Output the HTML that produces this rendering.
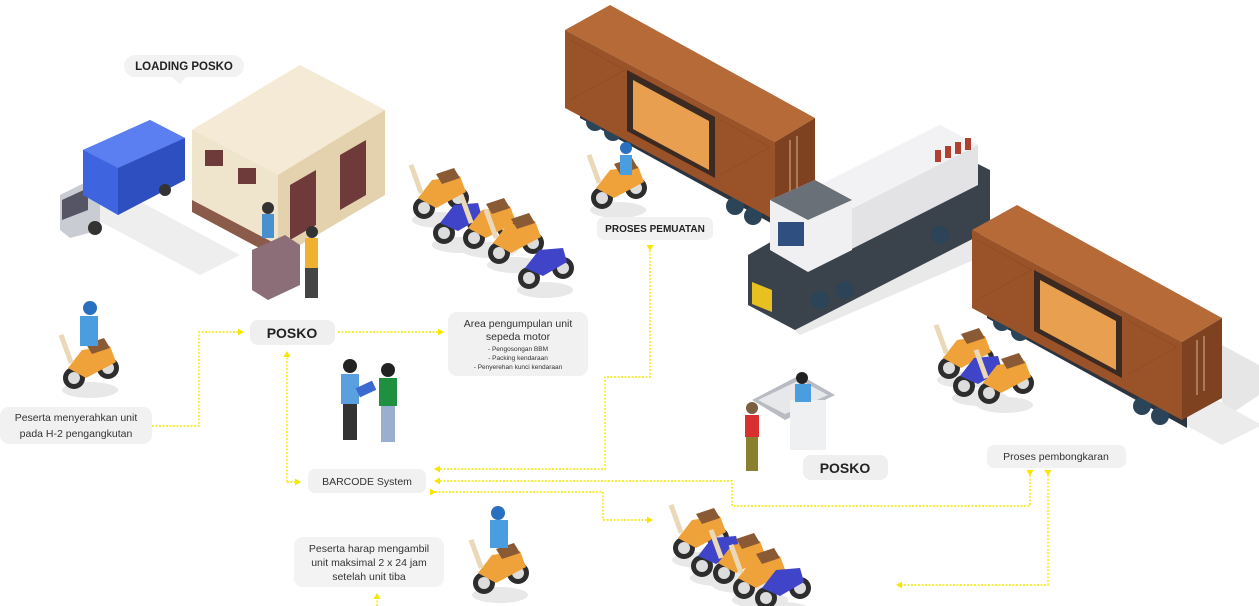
<!DOCTYPE html>
<html><head><meta charset="utf-8"><style>
html,body{margin:0;padding:0;background:#fff;}
svg{display:block}
text{font-family:"Liberation Sans",sans-serif}
</style></head><body>
<svg width="1259" height="606" viewBox="0 0 1259 606" xmlns="http://www.w3.org/2000/svg">
<defs>
<marker id="ar" markerUnits="userSpaceOnUse" markerWidth="8" markerHeight="8" refX="5" refY="4" orient="auto"><path d="M0,0.5 L6,4 L0,7.5 Z" fill="#f7e600"/></marker>
<g id="moto">
 <ellipse cx="0" cy="30" rx="28" ry="8" fill="#e8e8e8"/>
 <circle cx="-16" cy="18" r="11" fill="#2d2d2d"/><circle cx="-16" cy="18" r="6" fill="#ddd"/>
 <circle cx="18" cy="8" r="11" fill="#2d2d2d"/><circle cx="18" cy="8" r="6" fill="#ddd"/>
 <path d="M-22,8 L-8,-10 L20,-14 L26,2 L-4,18 Z" fill="#f0a23a"/>
 <path d="M-4,-16 L14,-22 L20,-12 L2,-6 Z" fill="#8a5a34"/>
 <rect x="-26" y="-26" width="5" height="30" fill="#e9d9b8" transform="rotate(-20 -24 -10)"/>
</g>
<g id="motob">
 <ellipse cx="0" cy="30" rx="28" ry="8" fill="#e8e8e8"/>
 <circle cx="-16" cy="18" r="11" fill="#2d2d2d"/><circle cx="-16" cy="18" r="6" fill="#ddd"/>
 <circle cx="18" cy="8" r="11" fill="#2d2d2d"/><circle cx="18" cy="8" r="6" fill="#ddd"/>
 <path d="M-20,8 L-6,-10 L18,-12 L22,2 L-2,16 Z" fill="#4044c8"/>
</g>
<g id="car">
 <!-- shadow -->
 <path d="M40,130 L250,245 L290,225 L80,110 Z" fill="#ececec"/>
 <!-- undercarriage -->
 <path d="M15,100 L215,210 L215,228 L15,118 Z" fill="#2c3440"/>
 <circle cx="30" cy="122" r="9" fill="#2c4458"/><circle cx="48" cy="132" r="9" fill="#2c4458"/>
 <circle cx="170" cy="206" r="9" fill="#2c4458"/><circle cx="188" cy="216" r="9" fill="#2c4458"/>
 <!-- top -->
 <path d="M0,30 L45,5 L250,118 L210,142 Z" fill="#b56a38"/>
 <!-- front long face -->
 <path d="M0,30 L210,142 L210,220 L0,108 Z" fill="#9a5228"/>
 <!-- end face -->
 <path d="M210,142 L250,118 L250,198 L210,220 Z" fill="#7e4220"/>
 <!-- door -->
 <path d="M62,70 L150,117 L150,178 L62,131 Z" fill="#3a2a22"/>
 <path d="M68,80 L144,121 L144,170 L68,129 Z" fill="#e8a050"/>
 <g stroke="#8e4a22" stroke-width="1" fill="none" opacity=".6">
  <path d="M5,40 L60,70 M5,100 L60,70 M155,120 L205,147 M155,175 L205,147"/>
 </g>
 <path d="M225,140 L225,195 M232,136 L232,191" stroke="#c9a080" stroke-width="1.2"/>
</g>
</defs>

<!-- LOADING POSKO pill -->
<rect x="124" y="55" width="120" height="22" rx="11" fill="#f2f2f2"/>
<path d="M172,77 L180,84 L186,77 Z" fill="#f2f2f2"/>
<text x="184" y="70" font-size="11.5" font-weight="bold" text-anchor="middle" fill="#222">LOADING POSKO</text>

<!-- truck -->
<path d="M60,200 L100,180 L240,255 L200,275 Z" fill="#eee"/>
<path d="M60,195 L90,180 L100,188 L100,230 L70,238 L60,230 Z" fill="#c9ccd2"/>
<path d="M62,200 L88,188 L88,210 L62,220 Z" fill="#556"/>
<path d="M83,150 L150,120 L185,138 L185,180 L118,215 L83,195 Z" fill="#3f64e0"/>
<path d="M83,150 L150,120 L185,138 L118,168 Z" fill="#5b7ef0"/>
<path d="M118,168 L185,138 L185,180 L118,215 Z" fill="#2e4fbf"/>
<circle cx="95" cy="228" r="7" fill="#333"/><circle cx="165" cy="190" r="6" fill="#333"/>

<!-- building -->
<path d="M192,130 L300,65 L385,110 L385,195 L290,250 L192,200 Z" fill="#eadcc0"/>
<path d="M192,130 L300,65 L385,110 L278,175 Z" fill="#f4ead6"/>
<path d="M278,175 L385,110 L385,195 L278,258 Z" fill="#e4d2ae"/>
<path d="M192,130 L278,175 L278,258 L192,210 Z" fill="#efe4cc"/>
<path d="M290,185 L316,170 L316,225 L290,240 Z" fill="#6e3a3a"/><path d="M340,155 L366,140 L366,195 L340,210 Z" fill="#6e3a3a"/>
<rect x="205" y="150" width="18" height="16" fill="#6e3a3a"/><rect x="238" y="168" width="18" height="16" fill="#6e3a3a"/>
<path d="M192,200 L278,245 L278,258 L192,212 Z" fill="#8a5a4a"/>
<path d="M252,250 L285,235 L300,245 L300,285 L268,300 L252,290 Z" fill="#8b6e78"/>
<circle cx="268" cy="208" r="6" fill="#333"/><rect x="262" y="214" width="12" height="24" fill="#4a8fd0"/>
<circle cx="312" cy="232" r="6" fill="#333"/><rect x="305" y="238" width="13" height="30" fill="#f0b030"/><rect x="305" y="268" width="13" height="30" fill="#444"/>

<!-- motorcycles top -->
<use href="#moto" x="440" y="190"/><use href="#motob" x="460" y="215"/><use href="#moto" x="490" y="220"/><use href="#moto" x="515" y="235"/><use href="#motob" x="545" y="260"/>

<!-- train car 1 -->
<use href="#car" x="565" y="0"/>
<!-- rider near pemuatan -->
<use href="#moto" x="618" y="180"/><circle cx="626" cy="148" r="6" fill="#2a70c0"/><rect x="620" y="155" width="12" height="20" fill="#4a9ee0"/>

<!-- locomotive -->
<path d="M760,300 L1000,230 L1020,240 L800,335 Z" fill="#e9e9e9"/>
<path d="M748,255 L940,145 L990,170 L990,230 L795,330 L748,305 Z" fill="#3a424c"/>
<path d="M790,200 L940,125 L978,145 L978,185 L830,260 L790,240 Z" fill="#e3e3e6"/>
<path d="M790,200 L940,125 L978,145 L830,220 Z" fill="#f2f2f4"/>
<g fill="#b04030"><rect x="935" y="150" width="6" height="12"/><rect x="945" y="146" width="6" height="12"/><rect x="955" y="142" width="6" height="12"/><rect x="965" y="138" width="6" height="12"/></g>
<path d="M770,200 L815,180 L852,200 L852,250 L808,272 L770,250 Z" fill="#f0f0f2"/>
<path d="M770,200 L815,180 L852,200 L808,220 Z" fill="#6a7078"/>
<rect x="778" y="222" width="26" height="24" fill="#2e4f80"/>
<path d="M752,282 L772,290 L772,312 L752,304 Z" fill="#e8c020"/>
<circle cx="820" cy="300" r="9" fill="#2c4458"/><circle cx="845" cy="290" r="9" fill="#2c4458"/><circle cx="940" cy="235" r="9" fill="#2c4458"/>

<!-- train car 2 -->
<path d="M1222,345 L1259,365 L1259,395 L1222,420 Z" fill="#e6e6e6"/>
<use href="#car" x="972" y="200"/>

<!-- bikes near car 2 -->
<use href="#moto" x="965" y="350"/><use href="#motob" x="980" y="368"/><use href="#moto" x="1005" y="375"/>

<!-- posko desk -->
<path d="M752,400 L800,375 L835,395 L785,420 Z" fill="#b8bcc2"/>
<path d="M758,400 L800,380 L828,395 L785,414 Z" fill="#e6e8ea"/>
<rect x="790" y="400" width="36" height="50" fill="#eef0f2"/>
<circle cx="802" cy="378" r="6" fill="#222"/><rect x="795" y="384" width="16" height="18" fill="#4a9ee0"/>
<circle cx="752" cy="408" r="6" fill="#7a6040"/><rect x="745" y="415" width="14" height="22" fill="#d83030"/><rect x="746" y="437" width="12" height="34" fill="#8a8030"/>

<!-- people middle -->
<circle cx="350" cy="366" r="7" fill="#222"/><rect x="341" y="374" width="18" height="30" fill="#5aa0e0"/><rect x="343" y="404" width="14" height="36" fill="#333"/>
<circle cx="388" cy="370" r="7" fill="#222"/><rect x="379" y="378" width="18" height="28" fill="#1e9040"/><rect x="381" y="406" width="14" height="36" fill="#9aaed0"/>
<rect x="357" y="384" width="18" height="10" fill="#3a6ad0" transform="rotate(-25 366 389)"/>

<!-- rider left -->
<use href="#moto" x="90" y="360"/><circle cx="90" cy="308" r="7" fill="#2a70c0"/><rect x="80" y="316" width="18" height="30" fill="#4a9ee0"/>
<!-- rider bottom -->
<use href="#moto" x="500" y="565"/><circle cx="498" cy="513" r="7" fill="#2a70c0"/><rect x="490" y="520" width="18" height="28" fill="#4a9ee0"/>

<!-- bikes bottom -->
<use href="#moto" x="700" y="530"/><use href="#motob" x="718" y="548"/><use href="#moto" x="740" y="555"/><use href="#moto" x="760" y="570"/><use href="#motob" x="782" y="580"/>

<!-- connectors -->
<g fill="none" stroke="#f7e600" stroke-width="1.4" stroke-dasharray="2,1.5">
<path d="M152,426 H199 V332 H243" marker-end="url(#ar)"/>
<path d="M338,332 H443" marker-end="url(#ar)"/>
<path d="M287,482 V352" marker-end="url(#ar)"/>
<path d="M287,482 H300" marker-end="url(#ar)"/>
<path d="M650,250 V377 H605 V469 H435" marker-start="url(#ar)" marker-end="url(#ar)"/>
<path d="M1030,475 V506 H732 V481 H435" marker-start="url(#ar)" marker-end="url(#ar)"/>
<path d="M435,492 H603 V520 H652" marker-start="url(#ar)" marker-end="url(#ar)"/>
<path d="M1048,475 V585 H897" marker-start="url(#ar)" marker-end="url(#ar)"/>
<path d="M377,606 V594" marker-end="url(#ar)"/>
</g>

<!-- pills -->
<rect x="250" y="320" width="85" height="25" rx="8" fill="#efefef"/>
<text x="292" y="338" font-size="14" font-weight="bold" text-anchor="middle" fill="#222">POSKO</text>
<rect x="448" y="312" width="140" height="64" rx="9" fill="#f1f1f1"/>
<text x="518" y="327" font-size="10.5" text-anchor="middle" fill="#333">Area pengumpulan unit</text>
<text x="518" y="340" font-size="10.5" text-anchor="middle" fill="#333">sepeda motor</text>
<text x="518" y="351" font-size="6.5" text-anchor="middle" fill="#333">- Pengosongan BBM</text>
<text x="518" y="360" font-size="6.5" text-anchor="middle" fill="#333">- Packing kendaraan</text>
<text x="518" y="369" font-size="6.5" text-anchor="middle" fill="#333">- Penyerehan kunci kendaraan</text>
<rect x="0" y="407" width="152" height="37" rx="9" fill="#f1f1f1"/>
<text x="76" y="421" font-size="10.5" text-anchor="middle" fill="#333">Peserta menyerahkan unit</text>
<text x="76" y="437" font-size="10.5" text-anchor="middle" fill="#333">pada H-2 pengangkutan</text>
<rect x="308" y="469" width="118" height="24" rx="7" fill="#f1f1f1"/>
<text x="367" y="485" font-size="10.5" text-anchor="middle" fill="#333">BARCODE System</text>
<rect x="294" y="537" width="150" height="50" rx="9" fill="#f3f3f3"/>
<text x="369" y="552" font-size="10.5" text-anchor="middle" fill="#333">Peserta harap mengambil</text>
<text x="369" y="566" font-size="10.5" text-anchor="middle" fill="#333">unit maksimal 2 x 24 jam</text>
<text x="369" y="580" font-size="10.5" text-anchor="middle" fill="#333">setelah unit tiba</text>
<rect x="597" y="217" width="116" height="23" rx="7" fill="#f1f1f1"/>
<text x="655" y="232" font-size="10" font-weight="bold" text-anchor="middle" fill="#222">PROSES PEMUATAN</text>
<rect x="803" y="455" width="85" height="25" rx="8" fill="#efefef"/>
<text x="845" y="473" font-size="14" font-weight="bold" text-anchor="middle" fill="#222">POSKO</text>
<rect x="987" y="445" width="139" height="23" rx="7" fill="#f1f1f1"/>
<text x="1056" y="460" font-size="10.5" text-anchor="middle" fill="#333">Proses pembongkaran</text>
</svg>
</body></html>
